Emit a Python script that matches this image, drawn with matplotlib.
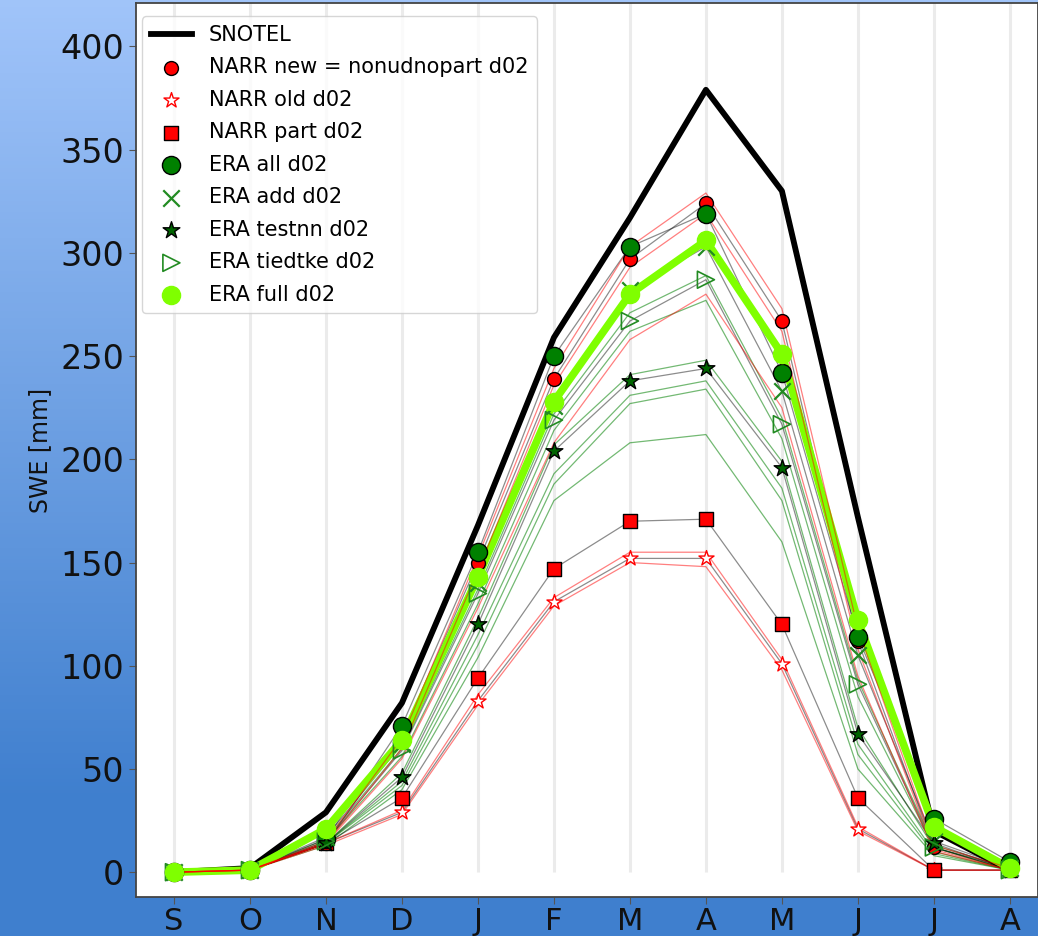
import numpy as np
import matplotlib
matplotlib.use('Agg')
import matplotlib.pyplot as plt

months = ['S', 'O', 'N', 'D', 'J', 'F', 'M', 'A', 'M', 'J', 'J', 'A']

# monthly mean SWE [mm]
snotel      = [0, 2, 29, 82, 168, 259, 317, 379, 330, 172, 20, 1]
narr_new    = [0, 1, 14, 66, 150, 239, 297, 324, 267, 112, 12, 2]
narr_old    = [0, 1, 14, 29, 83, 131, 152, 152, 101, 21, 1, 1]
narr_part   = [0, 1, 14, 36, 94, 147, 170, 171, 120, 36, 1, 1]
era_all     = [0, 1, 16, 71, 155, 250, 303, 319, 242, 114, 26, 5]
era_add     = [0, 1, 17, 62, 140, 226, 282, 303, 233, 105, 15, 2]
era_testnn  = [0, 1, 14, 46, 120, 204, 238, 244, 196, 67, 14, 1]
era_tiedtke = [0, 1, 15, 59, 135, 219, 267, 287, 217, 91, 12, 1]
era_full    = [0, 1, 21, 64, 143, 228, 280, 306, 251, 122, 22, 2]

# other ensemble members (thin lines, no labels)
narr_members = [
    [0, 1, 15, 65, 153, 244, 303, 329, 273, 118, 13, 2],
    [0, 1, 14, 60, 146, 236, 293, 319, 262, 108, 11, 1],
    [0, 1, 14, 55, 128, 208, 258, 280, 225, 95, 10, 1],
    [0, 1, 14, 30, 86, 133, 155, 155, 103, 22, 1, 1],
    [0, 1, 13, 28, 81, 129, 150, 148, 98, 20, 1, 1],
]
era_members = [
    [0, 1, 16, 60, 137, 222, 271, 289, 220, 93, 13, 2],
    [0, 1, 15, 56, 130, 214, 262, 277, 210, 85, 12, 1],
    [0, 1, 14, 48, 123, 207, 241, 248, 199, 70, 12, 1],
    [0, 1, 14, 44, 115, 193, 231, 238, 186, 62, 10, 1],
    [0, 1, 14, 42, 110, 188, 227, 234, 180, 57, 9, 1],
    [0, 1, 13, 40, 104, 180, 208, 212, 160, 50, 8, 1],
]

x = np.arange(len(months))

fig = plt.figure(figsize=(10.38, 9.36), dpi=100)

# blue gradient background
bg = fig.add_axes([0, 0, 1, 1], zorder=-10)
t = np.clip(np.linspace(0, 1, 256) / 0.85, 0, 1)
top = np.array([0.63, 0.77, 0.98])
bot = np.array([0.25, 0.50, 0.81])
grad = top[None, :] * (1 - t[:, None]) + bot[None, :] * t[:, None]
bg.imshow(grad[:, None, :], aspect='auto', extent=[0, 1, 0, 1])
bg.axis('off')

ax = fig.add_axes([0.131, 0.0417, 0.869, 0.955])
ax.vlines(x, 0, 440, color='#ebebeb', lw=2.2, zorder=0)

ax.plot(x, snotel, color='k', lw=4.2, label='SNOTEL', zorder=2)

for m in era_members:
    ax.plot(x, m, color='green', lw=0.9, alpha=0.55, zorder=1)

# thin connecting lines through the marker series
for s in [narr_new, narr_old, narr_part, era_all, era_add, era_testnn, era_tiedtke]:
    ax.plot(x, s, color='k', lw=0.9, alpha=0.45, zorder=1)

ax.plot(x, era_full, color='chartreuse', lw=5.5, zorder=2)

for m in narr_members:
    ax.plot(x, m, color='red', lw=0.9, alpha=0.5, zorder=2)

ax.scatter(x, narr_new, s=100, c='red', edgecolors='k', label='NARR new = nonudnopart d02', zorder=3)
ax.scatter(x, narr_old, s=130, marker='*', facecolors='white', edgecolors='red', linewidths=1, label='NARR old d02', zorder=3)
ax.scatter(x, narr_part, s=100, marker='s', c='red', edgecolors='k', label='NARR part d02', zorder=3)
ax.scatter(x, era_all, s=170, c='green', edgecolors='k', label='ERA all d02', zorder=3)
ax.scatter(x, era_add, s=140, marker='x', c='forestgreen', linewidths=1.6, label='ERA add d02', zorder=3)
ax.scatter(x, era_testnn, s=160, marker='*', c='darkgreen', edgecolors='k', label='ERA testnn d02', zorder=3)
ax.scatter(x, era_tiedtke, s=150, marker='>', facecolors='none', edgecolors='forestgreen', linewidths=1.2, label='ERA tiedtke d02', zorder=3)
ax.scatter(x, era_full, s=170, c='chartreuse', label='ERA full d02', zorder=4)

ax.set_xlim(-0.5, 11.37)
ax.set_ylim(-12, 421)
ax.set_xticks(x)
ax.set_xticklabels(months)
ax.set_yticks(np.arange(0, 401, 50))
ax.tick_params(colors='#555555', labelcolor='#111111', length=5)
ax.tick_params(axis='y', labelsize=24)
ax.tick_params(axis='x', labelsize=22, pad=2.5)
ax.set_ylabel('SWE [mm]', fontsize=17, color='#111111', labelpad=6)
for sp in ax.spines.values():
    sp.set_color('#444444')
    sp.set_linewidth(1.3)

ax.legend(loc='upper left', fontsize=15, bbox_to_anchor=(0.0, 0.992), borderaxespad=0.3,
          labelspacing=0.6)

fig.savefig('out.png', dpi=100)
